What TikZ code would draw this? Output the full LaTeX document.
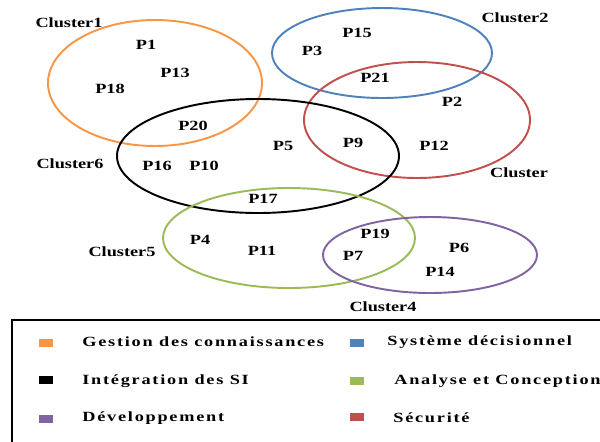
\documentclass[tikz,border=0pt]{standalone}
\usepackage{fontspec}
\setmainfont[FakeStretch=1.3]{Liberation Serif}
\newfontfamily\legendfont[FakeStretch=1.3,LetterSpace=12.5]{Liberation Serif}
\definecolor{km-orange}{HTML}{F79646}
\definecolor{dss-blue}{HTML}{4F81BD}
\definecolor{sec-red}{HTML}{C0504D}
\definecolor{ac-green}{HTML}{9BBB59}
\definecolor{dev-purple}{HTML}{8064A2}

\begin{document}
\begin{tikzpicture}[x=0.02cm, y=-0.02cm,
    every node/.style={font=\fontsize{8}{9}\selectfont\bfseries, inner sep=0pt},
    cluster/.style={line width=1.1pt},
    legtext/.style={anchor=west, font=\legendfont\fontsize{8}{9}\selectfont\bfseries},
    legkey/.style={minimum width=0.3cm, minimum height=0.16cm}]
    \clip (0,0) rectangle (600,441);
    % clusters
    \draw[cluster, km-orange] (155,83) ellipse [x radius=107, y radius=63];
    \draw[cluster, dss-blue] (382,53) ellipse [x radius=110, y radius=45];
    \draw[cluster, sec-red] (417,120) ellipse [x radius=113, y radius=58];
    \draw[cluster, black] (258,156) ellipse [x radius=141, y radius=57];
    \draw[cluster, ac-green] (289,238) ellipse [x radius=126, y radius=50];
    \draw[cluster, dev-purple] (430,255) ellipse [x radius=107, y radius=38];
    \node (c1) at (69,23) {Cluster1};
    \node (c2) at (515,18) {Cluster2};
    \node (c3) at (519,173) {Cluster};
    \node (c6) at (70,164) {Cluster6};
    \node (c5) at (122,252) {Cluster5};
    \node (c4) at (383,307) {Cluster4};
    % projects
    \node (p1) at (146,45) {P1};
    \node (p13) at (175,73) {P13};
    \node (p18) at (110,89) {P18};
    \node (p15) at (357,33) {P15};
    \node (p3) at (312,51) {P3};
    \node (p21) at (375,78) {P21};
    \node (p2) at (452,102) {P2};
    \node (p20) at (193,126) {P20};
    \node (p5) at (283,146) {P5};
    \node (p9) at (353,143) {P9};
    \node (p12) at (434,146) {P12};
    \node (p16) at (157,166) {P16};
    \node (p10) at (204,166) {P10};
    \node (p17) at (263,199) {P17};
    \node (p4) at (200,240) {P4};
    \node (p11) at (262,251) {P11};
    \node (p19) at (375,234) {P19};
    \node (p7) at (353,256) {P7};
    \node (p6) at (459,248) {P6};
    \node (p14) at (440,272) {P14};
    % legend
    \draw[line width=0.8pt] (12,320) rectangle (640,470);
    \node[legkey, fill=km-orange] (k1) at (46,343) {};
    \node[legkey, fill=black] (k2) at (46,380) {};
    \node[legkey, fill=dev-purple] (k3) at (46,419) {};
    \node[legkey, fill=dss-blue] (k4) at (357,343) {};
    \node[legkey, fill=ac-green] (k5) at (357,381) {};
    \node[legkey, fill=sec-red] (k6) at (357,417) {};
    \node[legtext] (t1) at (82,342) {Gestion des connaissances};
    \node[legtext] (t2) at (82,381) {Intégration des SI};
    \node[legtext] (t3) at (82,418) {Développement};
    \node[legtext] (t4) at (387,342) {Système décisionnel};
    \node[legtext] (t5) at (394,381) {Analyse et Conception};
    \node[legtext] (t6) at (393,418) {Sécurité};
\end{tikzpicture}
\end{document}
